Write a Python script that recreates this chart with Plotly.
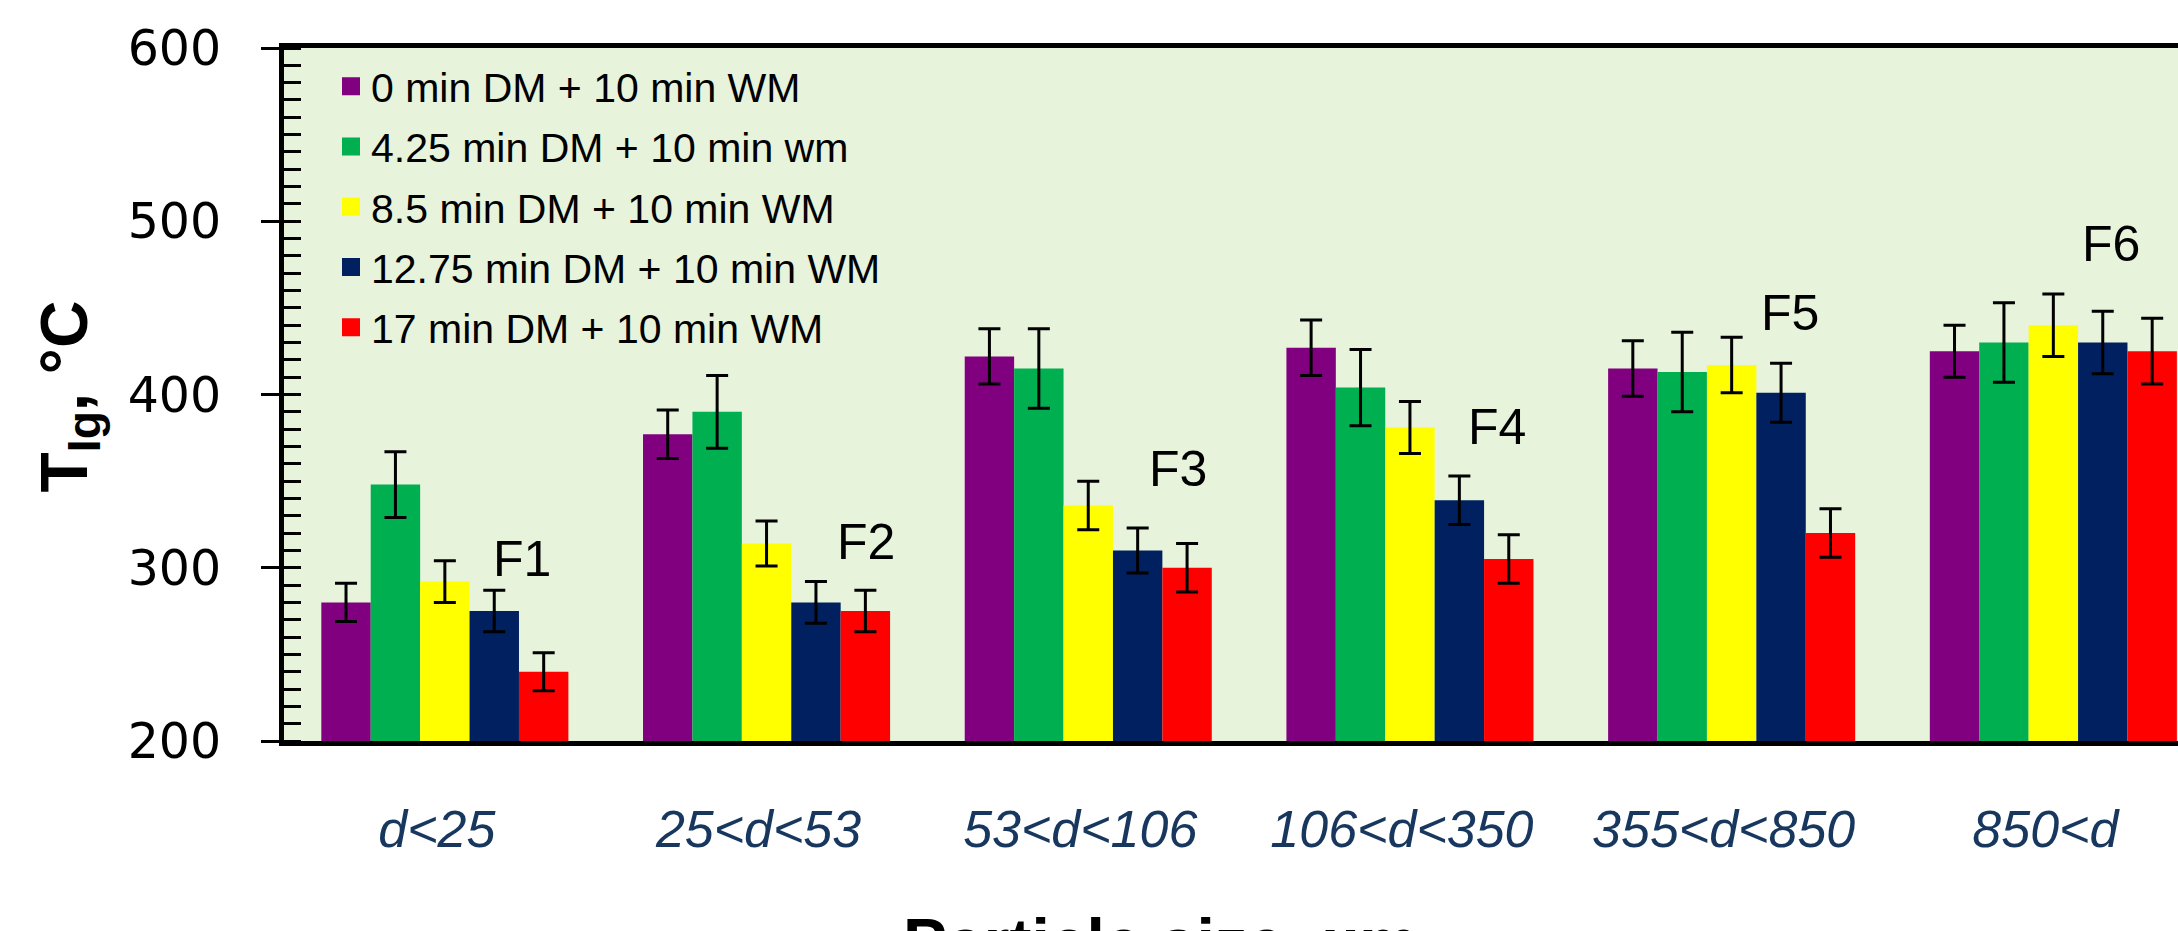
import plotly.graph_objects as go

# ---------------- data ----------------
categories = ["d<25", "25<d<53", "53<d<106", "106<d<350", "355<d<850", "850<d"]
series_names = [
    "0 min DM + 10 min WM",
    "4.25 min DM + 10 min wm",
    "8.5 min DM + 10 min WM",
    "12.75 min DM + 10 min WM",
    "17 min DM + 10 min WM",
]
dm0 = [280, 377, 422, 427, 415, 425]
dm425 = [348, 390, 415, 404, 413, 430]
dm85 = [292, 314, 336, 381, 417, 440]
dm1275 = [275, 280, 310, 339, 401, 430]
dm17 = [240, 275, 300, 305, 320, 425]
err0 = [11, 14, 16, 16, 16, 15]
err425 = [19, 21, 23, 22, 23, 23]
err85 = [12, 13, 14, 15, 16, 18]
err1275 = [12, 12, 13, 14, 17, 18]
err17 = [11, 12, 14, 14, 14, 19]
fraction_labels = ["F1", "F2", "F3", "F4", "F5", "F6"]
fraction_label_y = [305, 315, 357, 381, 447, 487]

# ---------------- style ----------------
colors = ["#800080", "#00B050", "#FFFF00", "#002060", "#FF0000"]
label_dx = [0.24, 0.31, 0.28, 0.27, 0.18, 0.18]
values = [dm0, dm425, dm85, dm1275, dm17]
errors = [err0, err425, err85, err1275, err17]

W, H = 2178, 931
ML, MR, MT, MB = 284, 0, 48, 190
PW, PH = W - ML - MR, H - MT - MB

fig = go.Figure()
for name, col, v, e in zip(series_names, colors, values, errors):
    fig.add_trace(go.Bar(
        x=categories, y=v, name=name, marker=dict(color=col, line=dict(width=0)),
        error_y=dict(type="data", array=e, visible=True, color="black", thickness=3, width=11),
        showlegend=False, legendgroup=name,
    ))
# legend entries (larger square swatches)
for name, col in zip(series_names, colors):
    fig.add_trace(go.Scatter(
        x=[None], y=[None], mode="markers", name=name, legendgroup=name,
        marker=dict(symbol="square", size=16, color=col, line=dict(color=col, width=2)),
    ))
# helper trace so the overlaid tick axis is drawn
fig.add_trace(go.Scatter(x=[None], y=[None], yaxis="y2", showlegend=False,
                         hoverinfo="skip", mode="markers"))

annotations = []
for i, (lab, ly) in enumerate(zip(fraction_labels, fraction_label_y)):
    annotations.append(dict(
        x=i + label_dx[i], y=ly, xref="x", yref="y", text=lab, showarrow=False,
        font=dict(family="Liberation Sans, Arial", size=50, color="black"),
        xanchor="center", yanchor="middle",
    ))
# y-axis title
annotations.append(dict(
    x=(68.5 - ML) / PW, y=(H - MB - 397) / PH, xref="paper", yref="paper",
    text="<b>T<sub>Ig</sub>, °C</b>", textangle=-90, showarrow=False,
    font=dict(family="Liberation Sans, Arial", size=66, color="black"),
    xanchor="center", yanchor="middle",
))
# x-axis title (partly outside the visible page, as in the reference)
annotations.append(dict(
    x=(1160 - ML) / PW, y=(H - MB - 903) / PH, xref="paper", yref="paper",
    text="<b>Particle size, µm</b>", showarrow=False,
    font=dict(family="Liberation Sans, Arial", size=66, color="black"),
    xanchor="center", yanchor="top",
))

fig.update_layout(
    width=W, height=H,
    margin=dict(l=ML, r=MR, t=MT, b=MB, pad=0),
    paper_bgcolor="white", plot_bgcolor="#E7F3DB",
    barmode="group", bargap=0.232, bargroupgap=0,
    showlegend=True,
    legend=dict(
        x=(331 - ML) / PW, y=(H - MB - 53) / PH, xanchor="left", yanchor="top",
        bgcolor="rgba(0,0,0,0)", borderwidth=0,
        font=dict(family="Liberation Sans, Arial", size=41, color="black"),
        traceorder="grouped", tracegroupgap=4, itemsizing="trace",
    ),
    annotations=annotations,
    xaxis=dict(
        type="category", categoryorder="array", categoryarray=categories,
        range=[-0.5, -0.5 + PW / 321.7],
        showline=True, linecolor="black", linewidth=5, mirror=True,
        ticks="", showgrid=False, zeroline=False,
        tickfont=dict(family="Liberation Sans, Arial", size=52, color="#17375E", style="italic"),
        ticklabelstandoff=39, ticklabelshift=-8,
    ),
    yaxis=dict(
        range=[200, 600], tickmode="linear", tick0=200, dtick=100,
        showline=True, linecolor="black", linewidth=5,
        ticks="outside", ticklen=18, tickwidth=3, tickcolor="black",
        showgrid=False, zeroline=False,
        tickfont=dict(family="DejaVu Sans", size=49, color="black"),
        ticklabelstandoff=30,
        minor=dict(ticks="inside", tickmode="linear", dtick=10, ticklen=17,
                   tickwidth=3, tickcolor="black", showgrid=False),
    ),
    yaxis2=dict(
        overlaying="y", anchor="x", side="left", range=[200, 600],
        tickmode="linear", tick0=200, dtick=100,
        ticks="inside", ticklen=17, tickwidth=3, tickcolor="black",
        showticklabels=False, showline=False, showgrid=False, zeroline=False,
    ),
)

fig.write_html("out.html", config={"displayModeBar": False},
               post_script="document.body.style.margin='0';document.body.style.overflow='hidden';")
